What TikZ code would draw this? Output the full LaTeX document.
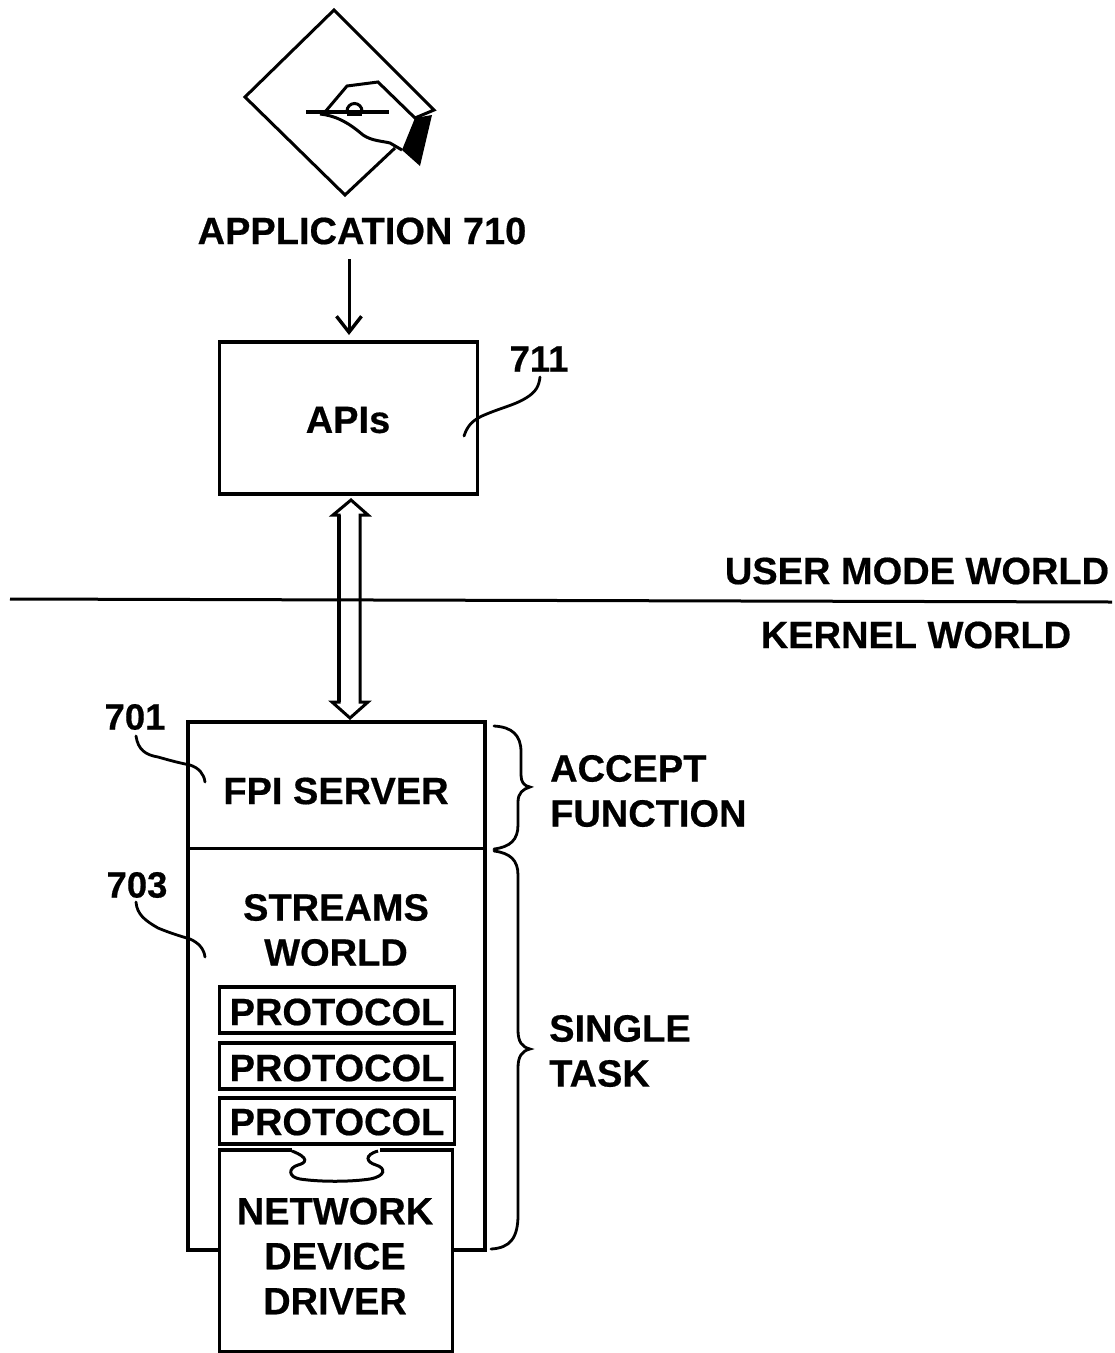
\documentclass[tikz,border=0pt]{standalone}
\usepackage{fontspec}
\usetikzlibrary{arrows.meta}
\setmainfont{Liberation Sans}[BoldFeatures={FakeBold=0.5}]
\tikzset{
  px/.style={x=1pt,y=-1pt},
  ln/.style={line width=3pt,line join=miter},
  thin ln/.style={line width=2.8pt,line cap=round},
  lbl/.style={font=\fontsize{38}{46}\selectfont\bfseries,inner sep=0pt,align=center},
  lbll/.style={lbl,align=left},
  num/.style={font=\fontsize{36.5}{42}\selectfont\bfseries,inner sep=0pt},
  boxed/.style={draw,line width=3.2pt,inner sep=0pt,fill=white},
}
\begin{document}
\begin{tikzpicture}[px]
\useasboundingbox (0,0) rectangle (1115,1353);
% application icon
\draw[ln] (395,148) -- (345,195) -- (245,97) -- (334,10) -- (434,110) -- (415,118) -- (378,82) -- (347,86) -- (325,112);
\draw[ln] (320,114) .. controls (338,116) and (350,124) .. (363,135) .. controls (372,141) and (382,141) .. (390,143) -- (402,150);
\fill (415,118) -- (432,115) -- (420,166) -- (402,150) -- cycle;
\draw[line width=3.6pt] (306,112) -- (389,112);
\draw[line width=3pt] (347,111) arc[start angle=180,end angle=360,radius=7.5];
\fill (347,111) rectangle (362,116);
\node[lbl] (app) at (362,231) {APPLICATION 710};
% APIs
\node[boxed,minimum width=258pt,minimum height=152pt] (apis) at (348.5,418) {};
\node[lbl] (apit) at (348,420) {APIs};
\coordinate (apptail) at (349,259);
\coordinate (apphead) at (349,335);
\draw[line width=3pt,-{Straight Barb[length=16pt,width=25pt,line width=3.4pt]}] (apptail) -- (apphead);
\node[num] (n711) at (539,359) {711};
\coordinate (l711) at (464,436);
\draw[thin ln] (l711) .. controls (468,424) and (474,420) .. (482,416) .. controls (500,408) and (515,405) .. (526,398) .. controls (536,392) and (539,386) .. (540,377);
% separator
\coordinate (sepl) at (10,599);
\coordinate (sepr) at (1112,602);
\node[lbl] (um) at (917,571) {USER MODE WORLD};
\node[lbl] (kw) at (916,635) {KERNEL WORLD};
% main stack
\node[boxed,fill=none,minimum width=297pt,minimum height=528pt] (stack) at (336.5,986) {};
\coordinate (divl) at (187,848);
\coordinate (divr) at (485,848);
% double arrow
\draw[ln,fill=white] (351,500) -- (368,515) -- (360,515) -- (360,702) -- (368,702) -- (350,718) -- (332,702) -- (339,702) -- (339,515) -- (333,515) -- cycle;
\draw[line width=3pt] (sepl) -- (sepr);
\draw[line width=3.6pt] (339,515) -- (339,702);
\draw[line width=2.6pt] (360,515) -- (360,702);
\draw[line width=3pt] (divl) -- (divr);
\node[lbl] (fpi) at (336,791) {FPI SERVER};
\node[lbl] (sw) at (336,930) {STREAMS\\[-1pt]WORLD};
\node[num] (n701) at (135,717) {701};
\node[num] (n703) at (137,885) {703};
\coordinate (l701) at (205,782);
\coordinate (l703) at (205,957);
\coordinate (s701) at (136,736);
\coordinate (s703) at (136,902);
\draw[thin ln] (s701) .. controls (138,750) and (146,755) .. (158,757) .. controls (172,761) and (180,763) .. (190,765) .. controls (199,768) and (204,774) .. (l701);
\draw[thin ln] (s703) .. controls (137,915) and (146,921) .. (158,928) .. controls (170,933) and (180,936) .. (190,939) .. controls (199,943) and (204,949) .. (l703);
% protocols
\node[boxed,minimum width=235pt,minimum height=46pt] (p1) at (337,1010) {};
\node[boxed,minimum width=235pt,minimum height=46pt] (p2) at (337,1066) {};
\node[boxed,minimum width=235pt,minimum height=46pt] (p3) at (337,1121) {};
\node[lbl] (p1t) at (337,1012) {PROTOCOL};
\node[lbl] (p2t) at (337,1068) {PROTOCOL};
\node[lbl] (p3t) at (337,1122) {PROTOCOL};
% driver
\node[boxed,minimum width=233pt,minimum height=202pt] (drv) at (336,1251) {};
\fill[white] (292,1147) rectangle (380,1153);
\fill[white] (292,1151) .. controls (310,1158) and (306,1163) .. (298,1165) .. controls (288,1168) and (288,1177) .. (300,1179) .. controls (320,1182) and (350,1182) .. (370,1179) .. controls (386,1176) and (386,1168) .. (376,1165) .. controls (366,1162) and (364,1155) .. (378,1151) -- cycle;
\draw[line width=3pt] (292,1151) .. controls (310,1158) and (306,1163) .. (298,1165) .. controls (288,1168) and (288,1177) .. (300,1179) .. controls (320,1182) and (350,1182) .. (370,1179) .. controls (386,1176) and (386,1168) .. (376,1165) .. controls (366,1162) and (364,1155) .. (378,1151);
\node[lbl] (drvt) at (335,1256) {NETWORK\\[-1pt]DEVICE\\[-1pt]DRIVER};
% braces
\draw[thin ln] (494,726) .. controls (512,727) and (521,735) .. (521,752) -- (521,775) .. controls (521,782) and (524,786) .. (530,787) .. controls (523,789) and (518,793) .. (518,802) -- (518,825) .. controls (518,840) and (510,847) .. (494,849);
\draw[thin ln] (494,851) .. controls (510,853) and (518,860) .. (518,875) -- (518,1030) .. controls (518,1042) and (522,1047) .. (530,1049) .. controls (522,1051) and (518,1056) .. (518,1068) -- (518,1215) .. controls (518,1238) and (510,1248) .. (491,1249);
\node[lbll,anchor=west] (acc) at (550,791) {ACCEPT\\[-1pt]FUNCTION};
\node[lbll,anchor=west] (sing) at (549,1051) {SINGLE\\[-1pt]TASK};
\end{tikzpicture}
\end{document}
